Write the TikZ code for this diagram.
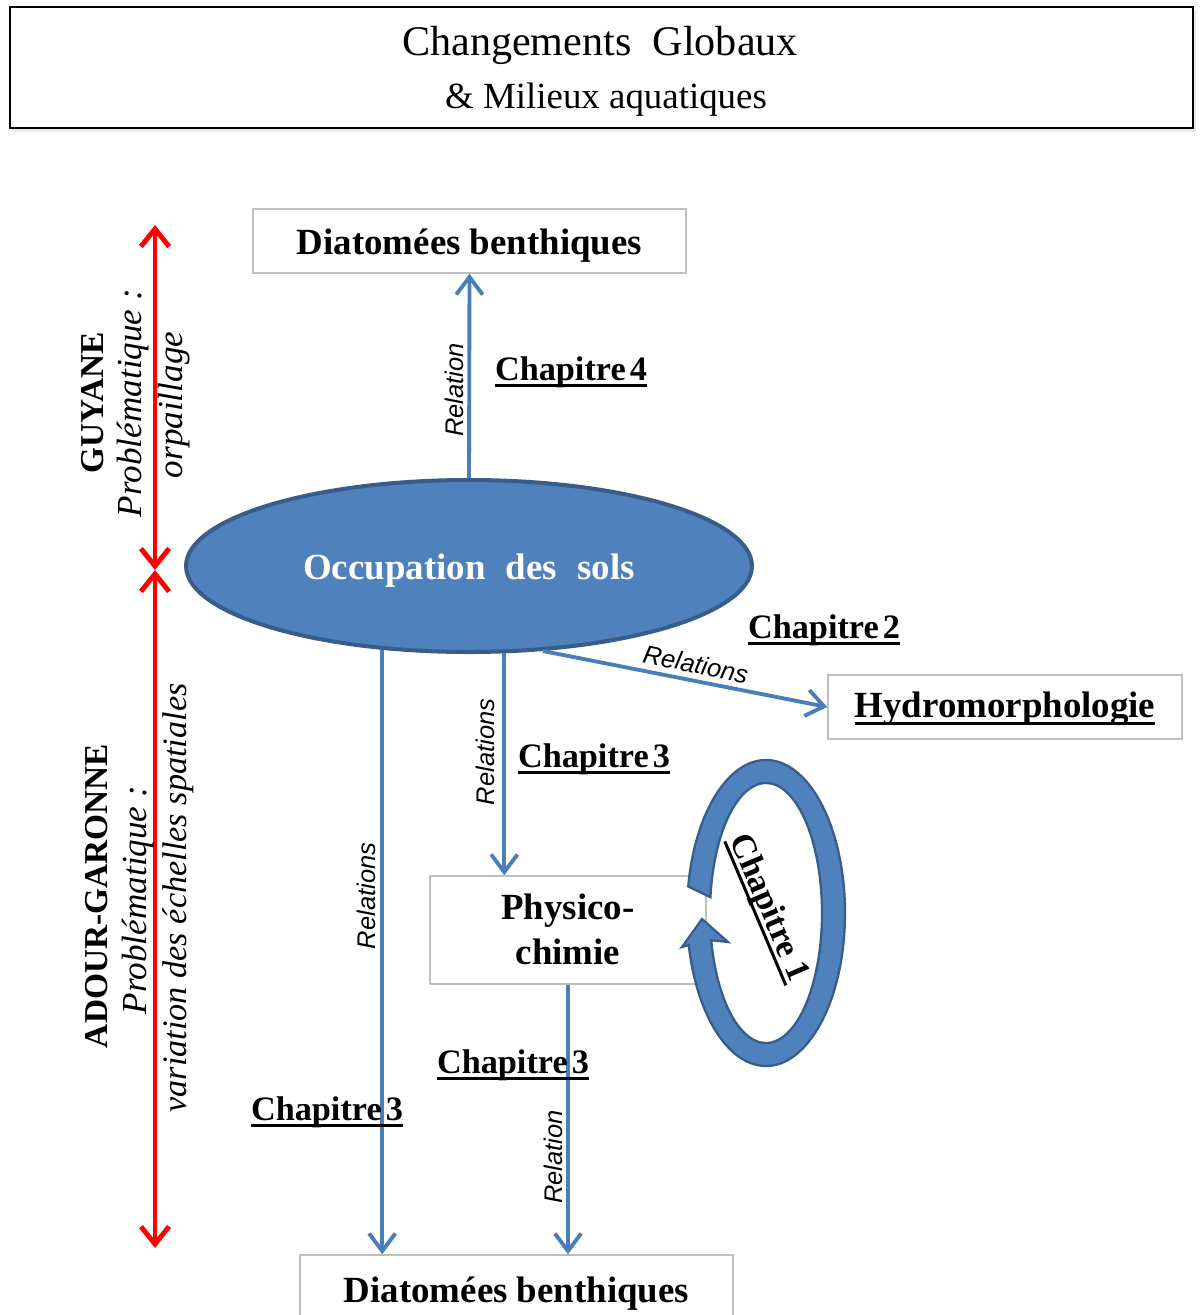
\documentclass[tikz,border=0pt]{standalone}
\usepackage{fontspec}
\setmainfont{Liberation Serif}
\newfontfamily\relfont{Liberation Sans}
\usetikzlibrary{arrows.meta,shapes.geometric,shadows}
\definecolor{arrblue}{HTML}{4A7EBB}
\definecolor{ellfill}{HTML}{4F81BD}
\definecolor{elldraw}{HTML}{385D8A}
\definecolor{boxgray}{HTML}{BFBFBF}
\newcommand\myul[1]{\setbox0\hbox{#1}\rlap{\rule[-4pt]{\wd0}{1.7pt}}\box0}
% place text with its baseline #1 below the node centre
\newcommand\ctext[2]{\raisebox{-#1}[0pt][0pt]{\makebox[0pt]{#2}}}
\tikzset{
  barrow/.style={draw=arrblue, line width=2.2pt, -{Straight Barb[length=10pt,width=15pt]}},
  rarrow/.style={draw=red, line width=2.8pt, {Straight Barb[length=10pt,width=16pt]}-{Straight Barb[length=10pt,width=16pt]}},
  gbox/.style={draw=boxgray, line width=0.9pt, font=\fontsize{21}{25.5}\selectfont\bfseries, align=center, inner sep=0pt},
  chap/.style={font=\fontsize{19.5}{23}\selectfont\bfseries, inner sep=0pt, anchor=base},
  rel/.style={font=\relfont\itshape\fontsize{14.5}{16}\selectfont, inner sep=0pt, anchor=base},
  sidebold/.style={font=\fontsize{19}{22}\selectfont\bfseries, inner sep=0pt, anchor=base, rotate=90},
  sideit/.style={font=\fontsize{20}{22}\selectfont\itshape, inner sep=0pt, anchor=base, rotate=90},
}
\begin{document}
\begin{tikzpicture}[x=0.02cm,y=-0.02cm]
\useasboundingbox (0,0) rectangle (1200,1315);
\clip (0,0) rectangle (1200,1315);
\fill[white] (0,0) rectangle (1200,1315);

% title
\node[draw=black, line width=1.2pt, minimum width=23.66cm, minimum height=2.42cm, inner sep=0pt,
  drop shadow={shadow xshift=0.6mm, shadow yshift=-0.8mm, opacity=0.18}, fill=white] (tbox) at (601.5,67.5) {};
\node[anchor=base, inner sep=0pt, font=\fontsize{24}{28}\selectfont] (t1) at (600,55) {Changements\hspace{0.5em}Globaux};
\node[anchor=base, inner sep=0pt, font=\fontsize{21}{25}\selectfont] (t2) at (606,108) {\& Milieux aquatiques};

% red double arrows
\coordinate (rtop) at (155,225);
\coordinate (rmid) at (155,570);
\coordinate (rbot) at (155,1248);
\draw[rarrow] (rtop) -- (rmid);
\draw[rarrow] (rmid) -- (rbot);

% side labels
\node[sidebold] (g1) at (103,403) {GUYANE};
\node[sideit] (g2) at (141,403) {Problématique :};
\node[sideit] (g3) at (182,405) {orpaillage};
\node[sidebold] (a1) at (107,896) {ADOUR-GARONNE};
\node[sideit] (a2) at (146,900) {Problématique :};
\node[sideit, font=\fontsize{19.5}{22}\selectfont\itshape] (a3) at (186,898) {variation des échelles spatiales};

% boxes
\node[gbox, minimum width=8.66cm, minimum height=1.28cm] (d1) at (469.5,241) {\ctext{7.4pt}{Diatomées benthiques}};
\node[ellipse, fill=ellfill, draw=elldraw, line width=2.3pt, minimum width=11.32cm, minimum height=3.44cm, inner sep=0pt,
  text=white, font=\fontsize{21}{25}\selectfont\bfseries] (ell) at (469,566) {\ctext{7.9pt}{Occupation\hspace{0.55em}des\hspace{0.55em}sols}};
\node[gbox, minimum width=7.08cm, minimum height=1.28cm] (hyd) at (1005,707) {\ctext{6.2pt}{\myul{Hydromorphologie}}};
\node[gbox, minimum width=5.52cm, minimum height=2.16cm] (phys) at (568,930) {\ctext{-5.7pt}{\begin{tabular}[t]{@{}c@{}}Physico-\\chimie\end{tabular}}};
\node[gbox, minimum width=8.66cm, minimum height=1.48cm] (d2) at (516.5,1292) {\ctext{5.7pt}{Diatomées benthiques}};

% connectors
\draw[barrow] (ell.north) -- (d1.south);
\draw[barrow] (ell.-49) -- (hyd.west);
\draw[barrow] (ell.-68.9) -- (ell.-68.9 |- phys.north);
\draw[barrow] (ell.224.4) -- (ell.224.4 |- d2.north);
\draw[barrow] (phys.south) -- (phys.south |- d2.north);

% relation labels
\node[rel, rotate=90] (r1) at (463,390) {Relation};
\node[rel, rotate=-11.5] (r2) at (694,673) {Relations};
\node[rel, rotate=90] (r3) at (494,752) {Relations};
\node[rel, rotate=90] (r4) at (375,896) {Relations};
\node[rel, rotate=90] (r5) at (562,1157) {Relation};

% chapitre labels
\node[chap] (c4) at (571,380) {\myul{Chapitre\hspace{0.12em}4}};
\node[chap] (c2) at (824,638) {\myul{Chapitre\hspace{0.12em}2}};
\node[chap] (c3a) at (594,767) {\myul{Chapitre\hspace{0.12em}3}};
\node[chap] (c3b) at (513,1073) {\myul{Chapitre\hspace{0.12em}3}};
\node[chap] (c3c) at (327,1120) {\myul{Chapitre\hspace{0.12em}3}};

% circular arrow (chapitre 1)
\draw[fill=ellfill, draw=elldraw, line width=1.3pt, line join=miter]
  (766,913) ++(190:79 and 153)
  arc[start angle=190, end angle=527.9, x radius=79, y radius=153]
  -- (682,947) -- (702,919) -- (728,942)
  -- ([shift={(527.9:56 and 130)}]766,913)
  arc[start angle=527.9, end angle=187, x radius=56, y radius=130]
  -- cycle;
\node[chap, anchor=center, rotate=-67] (c1) at (768,908) {\myul{Chapitre 1}};
\end{tikzpicture}
\end{document}
